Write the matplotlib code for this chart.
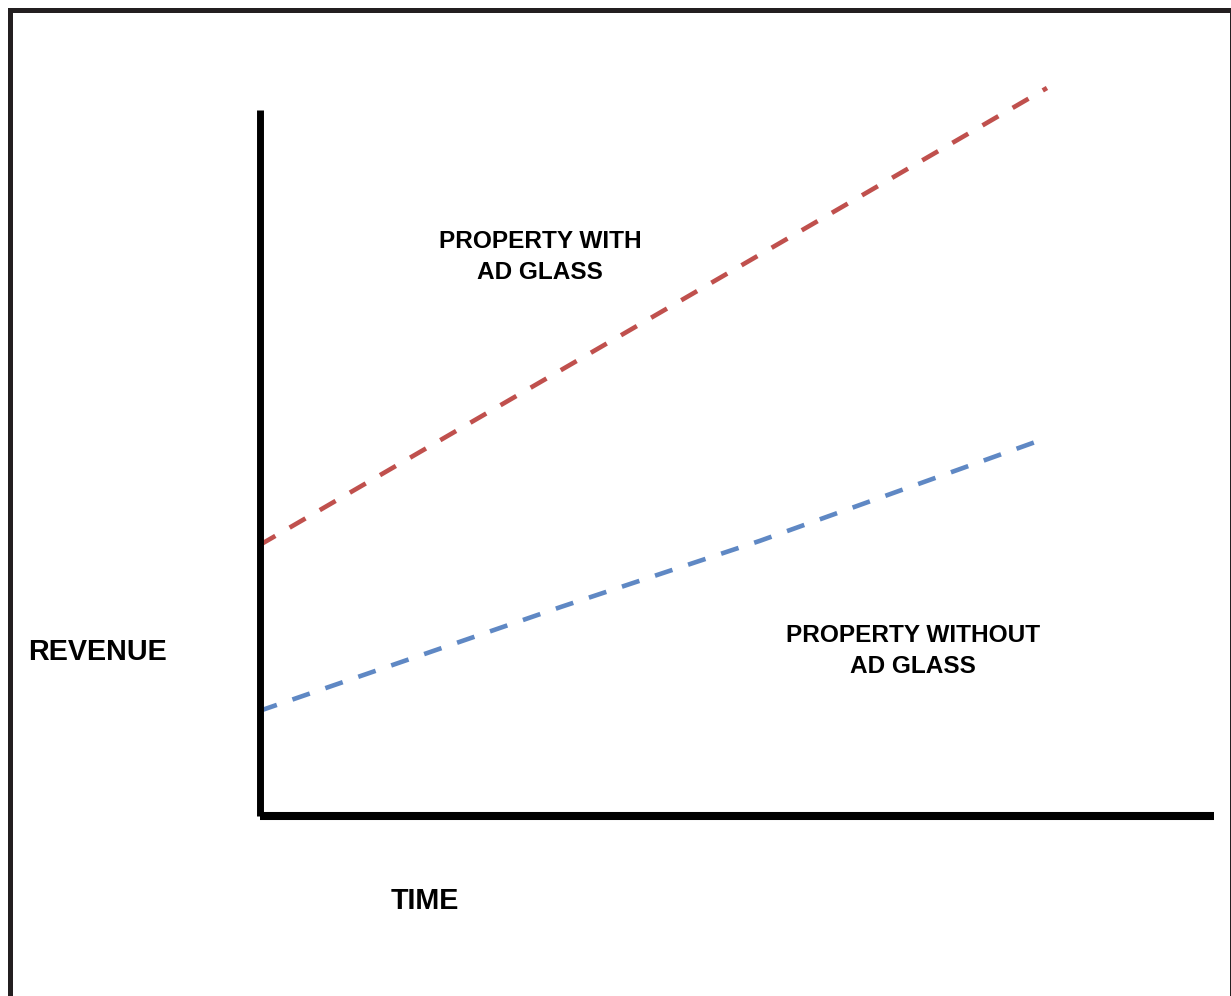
import matplotlib
matplotlib.use("Agg")
import matplotlib.pyplot as plt
from matplotlib.patches import Rectangle

plt.rcParams['font.family'] = ['Liberation Sans', 'DejaVu Sans']

# data (arbitrary units)
time_with = [0.0, 9.9]
revenue_with = [3.84, 10.32]
time_without = [0.0, 3.78, 6.29, 9.8]
revenue_without = [1.49, 2.96, 3.90, 5.32]

red = '#c0504d'
blue = '#5f88c4'

W, H = 1231, 996
fig = plt.figure(figsize=(W / 100, H / 100), dpi=100)

# axes placed so the spines sit where the reference has them
ax = fig.add_axes([259.5 / W, 180 / H, (1214 - 259.5) / W, 776 / H])
ax.set_xlim(0, 12)
ax.set_ylim(0, 11)

ax.plot(time_with, revenue_with, color=red, lw=3.3, dashes=(4, 3.6),
        dash_capstyle='butt', clip_on=False)
ax.plot(time_without, revenue_without, color=blue, lw=3.3, dashes=(4, 3.6),
        dash_capstyle='butt', clip_on=False)

for s in ['top', 'right']:
    ax.spines[s].set_visible(False)
ax.spines['left'].set_linewidth(5.0)
ax.spines['bottom'].set_linewidth(5.8)
ax.spines['left'].set_bounds(0, 706 / 70.55)
for s in ['left', 'bottom']:
    ax.spines[s].set_color('black')
    ax.spines[s].set_capstyle('butt')
ax.set_xticks([])
ax.set_yticks([])
ax.patch.set_alpha(0)

# labels
fs_small = 17.6
fs_big = 20.7
fig.text(540 / W, 1 - 257 / H, 'PROPERTY WITH\nAD GLASS', ha='center', va='center',
         fontsize=fs_small, fontweight='bold', linespacing=1.4)
fig.text(913 / W, 1 - 651 / H, 'PROPERTY WITHOUT\nAD GLASS', ha='center', va='center',
         fontsize=fs_small, fontweight='bold', linespacing=1.4)
fig.text(97.5 / W, 1 - 652 / H, 'REVENUE', ha='center', va='center',
         fontsize=fs_big, fontweight='bold')
fig.text(424.5 / W, 1 - 901 / H, 'TIME', ha='center', va='center',
         fontsize=fs_big, fontweight='bold')

# outer frame (bottom edge falls outside the image)
frame = Rectangle((9.5 / W, -0.02), (1231.5 - 9.5) / W, 1.02 - 10.5 / H,
                  transform=fig.transFigure, fill=False, lw=3.6,
                  edgecolor='#231f20', clip_on=False)
fig.patches.append(frame)

fig.savefig('out.png', dpi=100, facecolor='white')
